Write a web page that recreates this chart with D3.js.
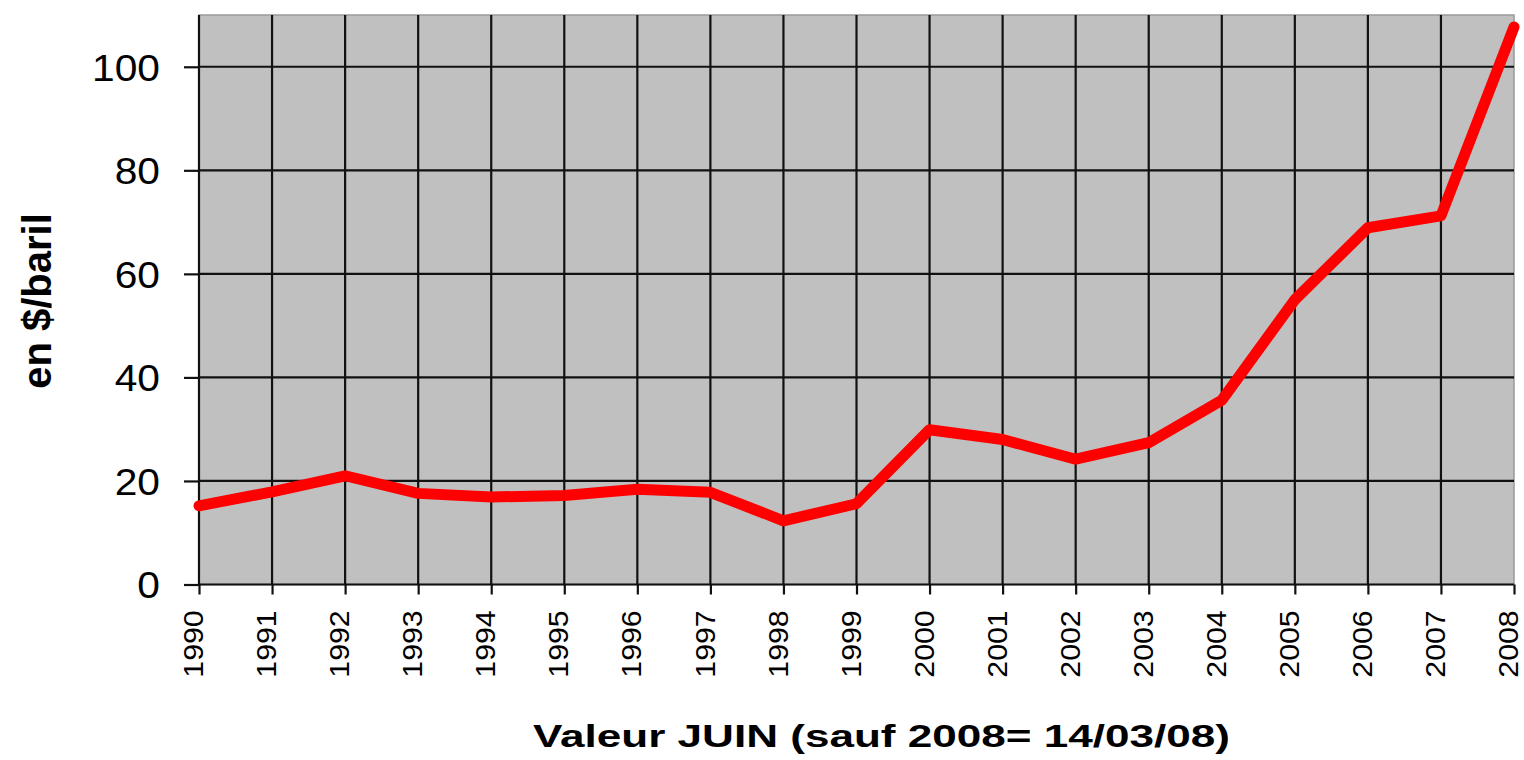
<!DOCTYPE html>
<html>
<head>
<meta charset="utf-8">
<script src="https://cdn.jsdelivr.net/npm/d3@7"></script>
<style>
  html, body { margin: 0; padding: 0; background: #fff; }
  svg { display: block; }
  text { font-family: "Liberation Sans", Arial, sans-serif; fill: #000; }
</style>
</head>
<body>
<svg id="chart" width="1524" height="760"></svg>
<script>
// Oil price, June value of each year (2008 = 14/03/08), in $ per barrel
const years  = [1990, 1991, 1992, 1993, 1994, 1995, 1996, 1997, 1998, 1999,
                2000, 2001, 2002, 2003, 2004, 2005, 2006, 2007, 2008];
const prices = [15.2, 17.9, 21.0, 17.6, 16.9, 17.2, 18.4, 17.8, 12.3, 15.6,
                29.9, 28.0, 24.2, 27.4, 35.6, 55.0, 68.9, 71.2, 107.7];
const yTicks = [0, 20, 40, 60, 80, 100];
const yLabel = "en $/baril";
const xLabel = "Valeur JUIN (sauf 2008= 14/03/08)";

const svg = d3.select("#chart");
const plotL = 199, plotR = 1514, plotT = 15, plotB = 584.5;

const x = d3.scaleLinear().domain([years[0], years[years.length - 1]]).range([plotL, plotR]);
const y = d3.scaleLinear().domain([0, 110]).range([plotB, plotT]);

// plot background
svg.append("rect")
  .attr("x", plotL).attr("y", plotT)
  .attr("width", plotR - plotL).attr("height", plotB - plotT)
  .attr("fill", "#c0c0c0")
  .attr("stroke", "#9a9a9a").attr("stroke-width", 1.5);

// horizontal grid
svg.append("g").selectAll("line").data(yTicks.filter(d => d > 0)).join("line")
  .attr("x1", plotL).attr("x2", plotR)
  .attr("y1", d => y(d)).attr("y2", d => y(d))
  .attr("stroke", "#111").attr("stroke-width", 2.2);

// vertical grid
svg.append("g").selectAll("line").data(years.slice(1, -1)).join("line")
  .attr("x1", d => x(d)).attr("x2", d => x(d))
  .attr("y1", plotT).attr("y2", plotB)
  .attr("stroke", "#111").attr("stroke-width", 2.2);

// y axis
const yAxis = svg.append("g")
  .attr("transform", `translate(${plotL},0)`)
  .call(d3.axisLeft(y).tickValues(yTicks).tickSize(15).tickSizeOuter(0));
yAxis.select(".domain").attr("stroke", "#111").attr("stroke-width", 2.2).attr("d", `M0,${plotT}V${plotB}`);
yAxis.selectAll(".tick line").attr("stroke", "#111").attr("stroke-width", 2.2);
yAxis.selectAll(".tick text")
  .attr("font-size", 37)
  .attr("font-family", "'Liberation Sans', Arial, sans-serif")
  .attr("fill", "#111")
  .attr("transform", "scale(1.1,1)")
  .attr("x", -39 / 1.1)
  .attr("dy", "0.36em");

// x axis
const xAxis = svg.append("g")
  .attr("transform", `translate(0,${plotB})`)
  .call(d3.axisBottom(x).tickValues(years).tickFormat(d3.format("d")).tickSize(10).tickSizeOuter(0));
xAxis.select(".domain").attr("stroke", "#111").attr("stroke-width", 2.2).attr("d", `M${plotL},0H${plotR}`);
xAxis.selectAll(".tick line").attr("stroke", "#111").attr("stroke-width", 2.2);
xAxis.selectAll(".tick text")
  .attr("font-size", 28)
  .attr("font-family", "'Liberation Sans', Arial, sans-serif")
  .attr("fill", "#111")
  .attr("text-anchor", "end")
  .attr("transform", "rotate(-90) scale(1.08,1)")
  .attr("x", -24).attr("y", 0).attr("dy", "0.13em");

// price line
svg.append("path")
  .datum(years.map((yr, i) => [yr, prices[i]]))
  .attr("fill", "none")
  .attr("stroke", "#ff0000")
  .attr("stroke-width", 11)
  .attr("stroke-linejoin", "round")
  .attr("stroke-linecap", "round")
  .attr("d", d3.line().x(d => x(d[0])).y(d => y(d[1])));

// axis titles
svg.append("text")
  .attr("transform", `translate(51,301) rotate(-90)`)
  .attr("text-anchor", "middle")
  .attr("font-size", 40).attr("font-weight", "bold")
  .text(yLabel);

svg.append("text")
  .attr("x", 533).attr("y", 747)
  .attr("text-anchor", "start")
  .attr("font-size", 31).attr("font-weight", "bold")
  .attr("textLength", 697).attr("lengthAdjust", "spacingAndGlyphs")
  .text(xLabel);
</script>
</body>
</html>
